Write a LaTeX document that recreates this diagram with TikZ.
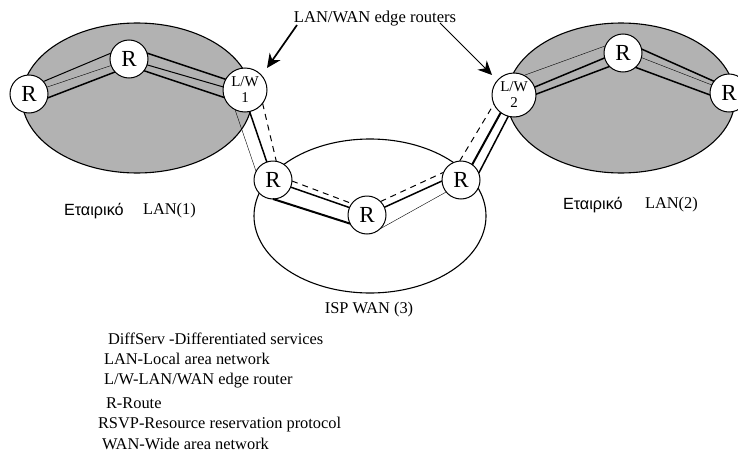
\documentclass[tikz,border=0pt]{standalone}
\usepackage{fontspec}
\usetikzlibrary{arrows.meta}
\setmainfont{Liberation Serif}
\newfontfamily\grkfont{Liberation Sans}
\begin{document}
\begin{tikzpicture}[x=1pt,y=-1pt,
  zone/.style={draw=black,line width=1.1pt},
  lan/.style={zone,fill=black!30},
  rtr/.style={circle,draw=black,fill=white,line width=1pt,inner sep=0pt,outer sep=0pt,minimum size=38pt,font=\fontsize{23}{23}\selectfont},
  lw/.style={circle,draw=black,fill=white,line width=1pt,inner sep=0pt,outer sep=0pt,minimum size=44pt,align=center,font=\fontsize{15}{16}\selectfont},
  thk/.style={line width=1.5pt},
  med/.style={line width=1pt},
  thn/.style={line width=0.4pt},
  dsh/.style={line width=1pt,dash pattern=on 6pt off 5pt},
  lbl/.style={inner sep=0pt,outer sep=0pt,font=\fontsize{16.4}{18}\selectfont},
  leg/.style={lbl,anchor=west},
  gleg/.style={inner sep=0pt,outer sep=0pt,anchor=west,font=\grkfont\fontsize{16.2}{18}\selectfont},
  pointer/.style={-{Stealth[length=14pt,width=13pt]}}]
\useasboundingbox (0,0) rectangle (738,455);
\fill[white] (0,0) rectangle (738,455);
\path[lan] (137,98) circle[x radius=115,y radius=75];
\path[lan] (621,98) circle[x radius=114,y radius=75];
\path[zone] (370,216) circle[x radius=116,y radius=77];
\node[rtr] (a) at (29,94) {R};
\node[rtr] (b) at (129,59) {R};
\node[lw]  (c) at (245,90) {L/W\\1};
\node[rtr] (d) at (273,180) {R};
\node[rtr] (e) at (367,215) {R};
\node[rtr] (f) at (461,180) {R};
\node[lw]  (g) at (514,95) {L/W\\2};
\node[rtr] (h) at (623,53) {R};
\node[rtr] (i) at (729,93) {R};
\draw[med] (a.41) -- (b.162);
\draw[thn] (a.21) -- (b.200);
\draw[thk] (a.-12) -- (b.223);
\draw[thk] (b.18) -- (c.151);
\draw[med] (b.-18) -- (c.172);
\draw[thk] (b.-38) -- (c.200);
\draw[thk] (c.-78) -- (d.109);
\draw[dsh] (c.-37) -- (d.80);
\draw[thn] (c.243) -- (d.153);
\draw[dsh] (d.-3) -- (e.143);
\draw[thk] (d.-22) -- (e.157);
\draw[line width=2pt] (d.-90) -- (e.207);
\draw[dsh] (e.45) -- (f.156);
\draw[thk] (e.24) -- (f.183);
\draw[thn] (e.-47) -- (f.219);
\draw[dsh] (f.94) -- (g.204);
\draw[line width=2pt] (f.54) -- (g.233);
\draw[thk] (f.21) -- (g.255);
\draw[thn] (g.63) -- (h.158);
\draw[thk] (g.21) -- (h.195);
\draw[thk] (g.2) -- (h.225);
\draw[thk] (h.12) -- (i.142);
\draw[thn] (h.-14) -- (i.155);
\draw[thk] (h.-49) -- (i.186);
\node[lbl,font=\fontsize{16.6}{18}\selectfont] (t) at (375,19) {LAN/WAN edge routers};
\coordinate (s1) at (297,25);
\coordinate (p1) at (267,68);
\coordinate (s2) at (440,23);
\coordinate (p2) at (492,75);
\draw[line width=1.7pt,pointer] (s1) -- (p1);
\draw[line width=0.9pt,pointer] (s2) -- (p2);
\node[gleg] (e1) at (64,211) {Εταιρικό};
\node[leg] (l1) at (143,211) {LAN(1)};
\node[gleg] (e2) at (563,205) {Εταιρικό};
\node[leg] (l2) at (645,205) {LAN(2)};
\node[lbl] (w) at (369,310) {ISP WAN (3)};
\node[leg] (k1) at (108,339) {DiffServ -Differentiated services};
\node[leg] (k2) at (104,359) {LAN-Local area network};
\node[leg] (k3) at (104,381) {L/W-LAN/WAN edge router};
\node[leg] (k4) at (106,403) {R-Route};
\node[leg] (k5) at (98,425) {RSVP-Resource reservation protocol};
\node[leg] (k6) at (102,444) {WAN-Wide area network};
\end{tikzpicture}
\end{document}
